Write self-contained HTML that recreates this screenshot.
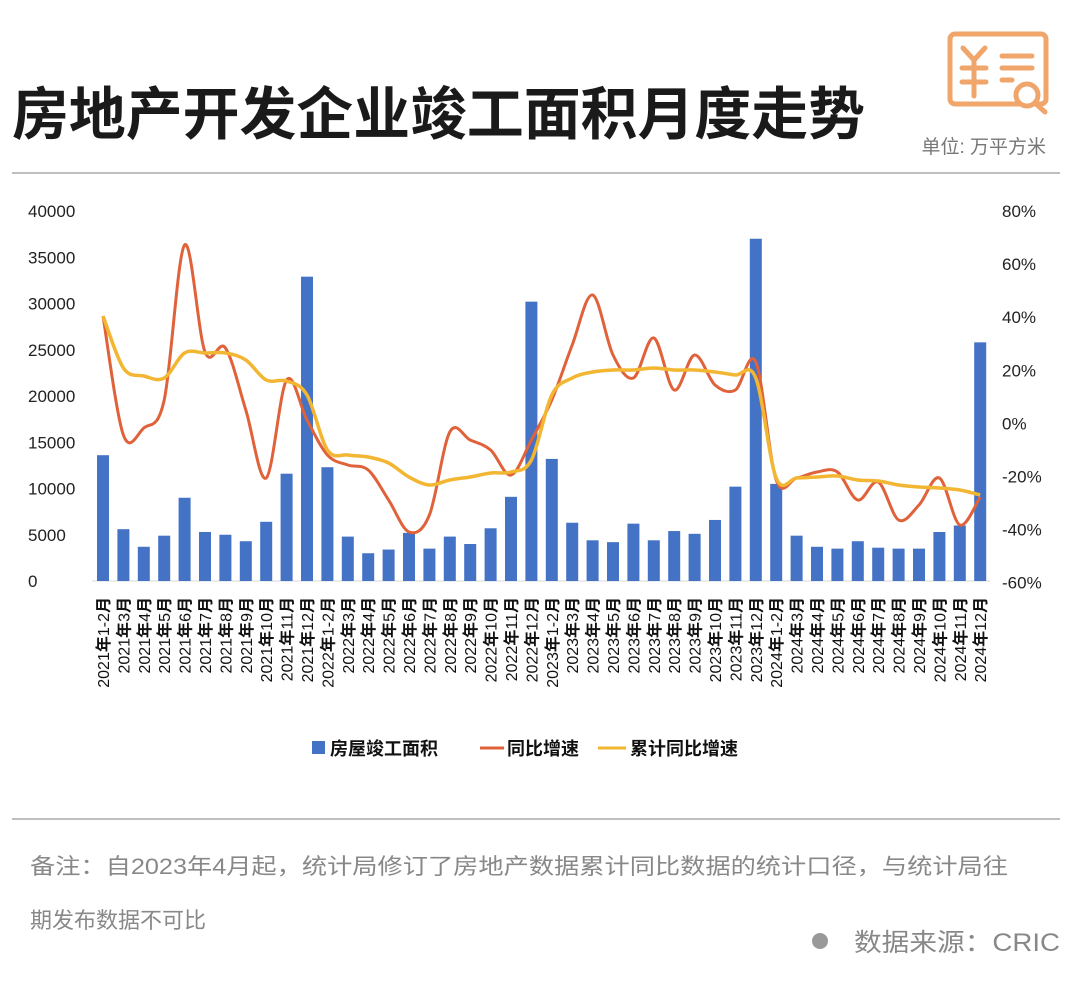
<!DOCTYPE html>
<html><head><meta charset="utf-8">
<style>
body{margin:0;background:#fff;width:1080px;height:984px;overflow:hidden;font-family:"Liberation Sans","Noto Sans CJK SC",sans-serif;}
</style></head><body>
<svg id="s" width="1080" height="984" xmlns="http://www.w3.org/2000/svg" font-family="Liberation Sans, Noto Sans CJK SC, sans-serif">
<text x="12" y="134" font-size="57" font-weight="bold" fill="#1a1a1a" font-family="Noto Sans CJK SC, sans-serif" textLength="853" lengthAdjust="spacingAndGlyphs">房地产开发企业竣工面积月度走势</text>
<g fill="none" stroke="#f0a56b" stroke-width="5" stroke-linecap="round">
<rect x="950" y="34" width="96" height="70" rx="5"/>
<path d="M963 48 L974 60 L985 48 M974 60 V96 M962 68 H986 M962 82 H986"/>
<path d="M1002 56 H1032 M1002 68 H1032 M1002 80 H1012"/>
<circle cx="1027" cy="95" r="11" fill="#fff"/>
<path d="M1035 103 L1045 112"/>
</g>
<text x="1046" y="153" font-size="19" fill="#777" text-anchor="end">单位: 万平方米</text>
<line x1="12" y1="173" x2="1060" y2="173" stroke="#aaa" stroke-width="1.5"/>
<line x1="12" y1="819" x2="1060" y2="819" stroke="#aaa" stroke-width="1.5"/>
<line x1="92" y1="581" x2="990" y2="581" stroke="#d9d9d9" stroke-width="1"/>
<g id="bars" fill="#4472c4"></g>
<g id="ax" font-size="17" fill="#222"></g>
<path id="o" fill="none" stroke="#e0623a" stroke-width="3"/>
<path id="y" fill="none" stroke="#f2b632" stroke-width="3.5"/>
<g id="xl" font-size="16" fill="#111"></g>
<g font-size="18" font-weight="bold" fill="#111">
<rect x="312" y="741" width="13" height="13" fill="#4472c4"/><text x="330" y="755">房屋竣工面积</text>
<line x1="480" y1="748" x2="504" y2="748" stroke="#e0623a" stroke-width="3"/><text x="507" y="755">同比增速</text>
<line x1="598" y1="748" x2="626" y2="748" stroke="#f2b632" stroke-width="3"/><text x="630" y="755">累计同比增速</text>
</g>
<text x="30" y="874" font-size="22" fill="#888" textLength="978" lengthAdjust="spacingAndGlyphs">备注：自2023年4月起，统计局修订了房地产数据累计同比数据的统计口径，与统计局往</text>
<text x="30" y="928" font-size="22" fill="#888">期发布数据不可比</text>
<circle cx="820" cy="941" r="8" fill="#999"/>
<text x="1060" y="951" font-size="25" fill="#888" text-anchor="end" textLength="206" lengthAdjust="spacingAndGlyphs">数据来源：CRIC</text>
</svg>
<script>
var NS="http://www.w3.org/2000/svg";
function el(p,t,a,txt){var e=document.createElementNS(NS,t);for(var k in a)e.setAttribute(k,a[k]);if(txt!=null)e.textContent=txt;document.getElementById(p).appendChild(e);return e;}
var v=[13.6,5.6,3.7,4.9,9.0,5.3,5.0,4.3,6.4,11.6,32.9,12.3,4.8,3.0,3.4,5.2,3.5,4.8,4.0,5.7,9.1,30.2,13.2,6.3,4.4,4.2,6.2,4.4,5.4,5.1,6.6,10.2,37.0,10.5,4.9,3.7,3.5,4.3,3.6,3.5,3.5,5.3,6.0,25.8];
var o=[316,435,428,400,245,352,348,410,478,380,420,455,465,470,500,532,515,432,440,450,475,440,400,345,295,355,378,338,390,355,385,390,362,480,478,472,472,500,482,520,505,478,525,497];
var yy=[316,368,376,378,353,353,353,360,380,381,395,450,455,457,463,477,485,480,477,473,472,460,395,378,372,370,370,368,370,370,372,375,378,478,478,477,476,480,481,485,487,488,490,495];
function X(i){return 103+i*20.4;}
v.forEach(function(d,i){var h=d*9.25;el("bars","rect",{x:X(i)-6,y:581-h,width:12,height:h});});
for(var k=0;k<=8;k++){el("ax","text",{x:28,y:581-k*46.25+6},String(k*5000));}
for(var k=0;k<=7;k++){var p=80-k*20;el("ax","text",{x:1002,y:211+k*53.1+6},p+"%");}
function path(a){var pts=a.map(function(y,i){return [X(i),y];});var d="M"+pts[0][0]+" "+pts[0][1];
for(var i=0;i<pts.length-1;i++){var p0=pts[i-1]||pts[i],p1=pts[i],p2=pts[i+1],p3=pts[i+2]||p2;
d+=" C"+(p1[0]+(p2[0]-p0[0])/6)+" "+(p1[1]+(p2[1]-p0[1])/6)+" "+(p2[0]-(p3[0]-p1[0])/6)+" "+(p2[1]-(p3[1]-p1[1])/6)+" "+p2[0]+" "+p2[1];}return d;}
document.getElementById("o").setAttribute("d",path(o));
document.getElementById("y").setAttribute("d",path(yy));
var lab=[];for(var yr=2021;yr<=2024;yr++){lab.push(yr+"年1-2月");for(var m=3;m<=12;m++)lab.push(yr+"年"+m+"月");}
lab.forEach(function(t,i){var e=el("xl","text",{x:0,y:0,"text-anchor":"end",transform:"translate("+(X(i)+6)+",597) rotate(-90)"});
var m=t.match(/^(\d+)年(.+)月$/);
var a=document.createElementNS(NS,"tspan");a.textContent=m[1];e.appendChild(a);
var b=document.createElementNS(NS,"tspan");b.setAttribute("font-weight","bold");b.textContent="年";e.appendChild(b);
var c=document.createElementNS(NS,"tspan");c.textContent=m[2];e.appendChild(c);
var d=document.createElementNS(NS,"tspan");d.setAttribute("font-weight","bold");d.textContent="月";e.appendChild(d);});
</script>
</body></html>
